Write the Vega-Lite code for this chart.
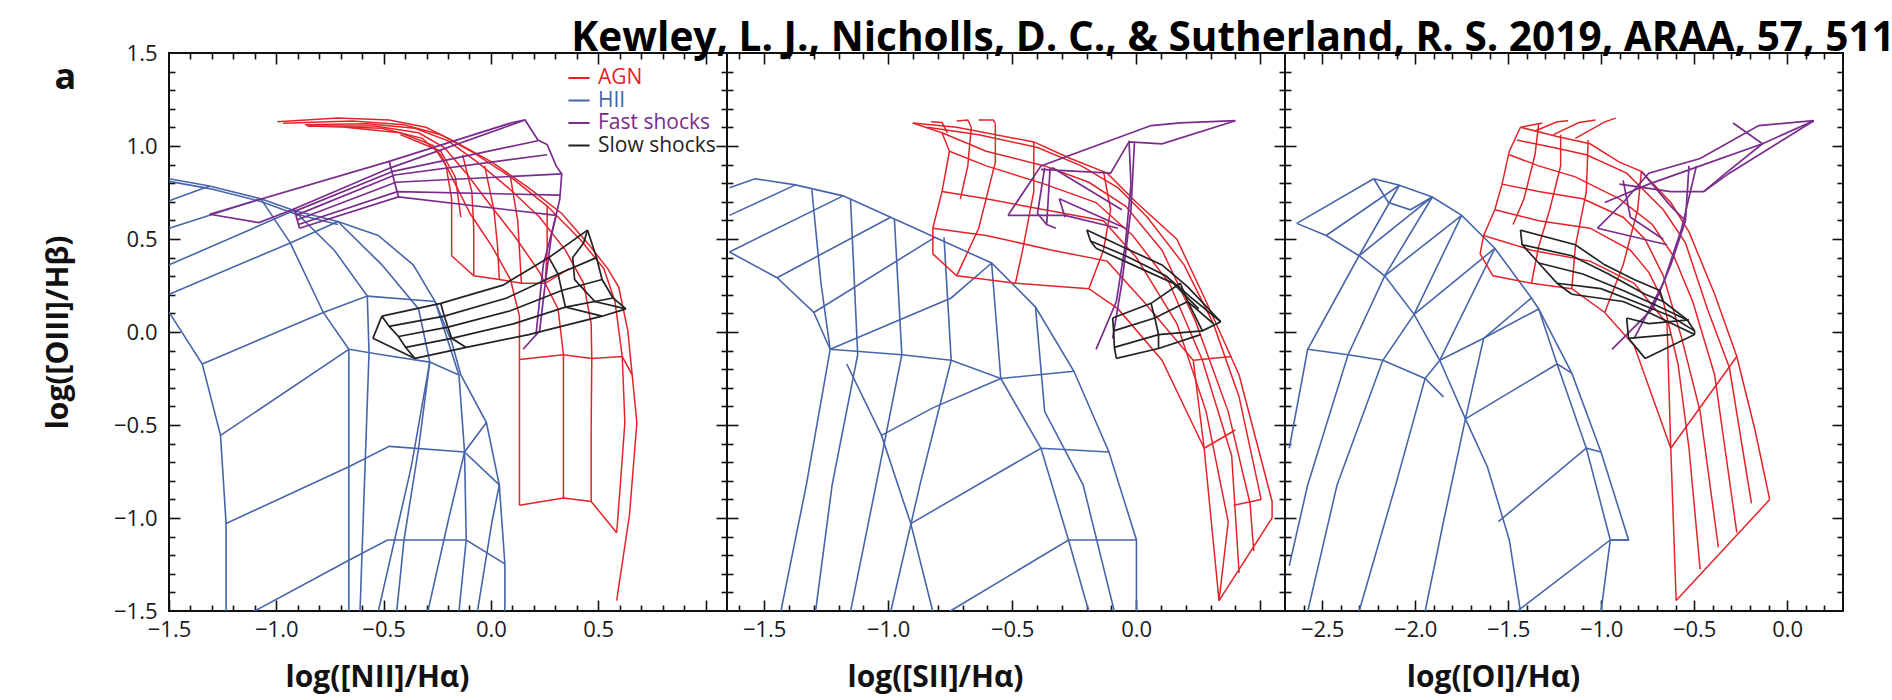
{
"$schema":"https://vega.github.io/schema/vega-lite/v6.json",
"background":"white",
"padding":{"left":42,"top":19,"right":10,"bottom":6},
"title":{"text":"Kewley, L. J., Nicholls, D. C., & Sutherland, R. S. 2019, ARAA, 57, 511","anchor":"end","font":"Open Sans","fontSize":40.6,"fontWeight":"bold","color":"#000","offset":-19,"dx":50},
"config":{"font":"Open Sans","view":{"stroke":"#111","strokeWidth":2},"axis":{"domain":false,"grid":false,"labelFont":"Open Sans","labelFontSize":22,"labelColor":"#1a1a1a","titleFont":"Open Sans","titleFontSize":30,"titleFontWeight":"bold","titleColor":"#111","tickColor":"#111","tickWidth":1.6,"labelFlush":false,"labelOverlap":false,"labelBound":false}},
"datasets":{
"p1h":[
{"i":1,"x":-1.499,"y":0.824},{"i":1,"x":-1.311,"y":0.785},{"i":1,"x":-1.072,"y":0.716},{"i":1,"x":-0.918,"y":0.653},{"i":1,"x":-0.713,"y":0.594},{"i":1,"x":-0.525,"y":0.519},{"i":1,"x":-0.362,"y":0.361},{"i":1,"x":-0.26,"y":0.164},{"i":1,"x":-0.183,"y":-0.053},{"i":1,"x":-0.14,"y":-0.231},{"i":1,"x":-0.021,"y":-0.487},{"i":1,"x":0.039,"y":-0.822},{"i":1,"x":0.065,"y":-1.247},{"i":1,"x":0.065,"y":-1.503},
{"i":2,"x":-1.499,"y":0.105},{"i":2,"x":-1.345,"y":-0.172},{"i":2,"x":-1.26,"y":-0.556},{"i":2,"x":-1.234,"y":-1.03},{"i":2,"x":-1.234,"y":-1.503},
{"i":3,"x":-1.072,"y":0.716},{"i":3,"x":-0.935,"y":0.479},{"i":3,"x":-0.781,"y":0.105},{"i":3,"x":-0.662,"y":-0.093},{"i":3,"x":-0.662,"y":-1.503},
{"i":4,"x":-0.918,"y":0.653},{"i":4,"x":-0.73,"y":0.44},{"i":4,"x":-0.576,"y":0.193},{"i":4,"x":-0.568,"y":-0.112},{"i":4,"x":-0.61,"y":-1.503},
{"i":5,"x":-0.713,"y":0.594},{"i":5,"x":-0.508,"y":0.361},{"i":5,"x":-0.337,"y":0.124},{"i":5,"x":-0.285,"y":-0.162},{"i":5,"x":-0.337,"y":-0.625},{"i":5,"x":-0.405,"y":-1.118},{"i":5,"x":-0.439,"y":-1.503},
{"i":6,"x":-0.26,"y":0.164},{"i":6,"x":-0.149,"y":-0.231},{"i":6,"x":-0.123,"y":-0.645},{"i":6,"x":-0.115,"y":-1.118},{"i":6,"x":-0.149,"y":-1.503},
{"i":7,"x":-1.499,"y":0.706},{"i":7,"x":-1.311,"y":0.785},
{"i":8,"x":-1.499,"y":0.558},{"i":8,"x":-1.072,"y":0.716},
{"i":9,"x":-1.499,"y":0.361},{"i":9,"x":-0.918,"y":0.653},
{"i":10,"x":-1.499,"y":0.203},{"i":10,"x":-0.935,"y":0.479},{"i":10,"x":-0.713,"y":0.594},
{"i":11,"x":-1.345,"y":-0.172},{"i":11,"x":-0.781,"y":0.105},{"i":11,"x":-0.576,"y":0.193},{"i":11,"x":-0.26,"y":0.164},
{"i":12,"x":-1.26,"y":-0.556},{"i":12,"x":-0.662,"y":-0.093},{"i":12,"x":-0.508,"y":-0.122},{"i":12,"x":-0.285,"y":-0.162},{"i":12,"x":-0.149,"y":-0.231},
{"i":13,"x":-1.234,"y":-1.03},{"i":13,"x":-0.662,"y":-0.724},{"i":13,"x":-0.474,"y":-0.615},{"i":13,"x":-0.123,"y":-0.645},{"i":13,"x":0.039,"y":-0.822},
{"i":14,"x":-1.106,"y":-1.503},{"i":14,"x":-0.662,"y":-1.227},{"i":14,"x":-0.482,"y":-1.118},{"i":14,"x":-0.115,"y":-1.118},{"i":14,"x":0.065,"y":-1.247},
{"i":15,"x":-0.525,"y":-1.503},{"i":15,"x":-0.371,"y":-0.724},{"i":15,"x":-0.285,"y":-0.162},
{"i":16,"x":-0.294,"y":-1.503},{"i":16,"x":-0.2,"y":-1.02},{"i":16,"x":-0.123,"y":-0.645},{"i":16,"x":-0.021,"y":-0.487},
{"i":17,"x":-0.063,"y":-1.503},{"i":17,"x":0.005,"y":-1.02},{"i":17,"x":0.039,"y":-0.822},
{"i":18,"x":-1.499,"y":0.81},{"i":18,"x":-1.311,"y":0.771},{"i":18,"x":-1.072,"y":0.702},{"i":18,"x":-0.918,"y":0.637},{"i":18,"x":-0.713,"y":0.578}
],
"p1a":[
{"i":1,"x":-0.995,"y":1.13},{"i":1,"x":-0.713,"y":1.15},{"i":1,"x":-0.474,"y":1.14},{"i":1,"x":-0.303,"y":1.101},{"i":1,"x":-0.166,"y":1.022},{"i":1,"x":0.005,"y":0.913},{"i":1,"x":0.176,"y":0.775},{"i":1,"x":0.33,"y":0.637},{"i":1,"x":0.45,"y":0.479},{"i":1,"x":0.544,"y":0.341},{"i":1,"x":0.595,"y":0.243},{"i":1,"x":0.638,"y":0.006},{"i":1,"x":0.68,"y":-0.487},{"i":1,"x":0.646,"y":-0.98},{"i":1,"x":0.586,"y":-1.444},
{"i":2,"x":-0.969,"y":1.122},{"i":2,"x":-0.644,"y":1.134},{"i":2,"x":-0.405,"y":1.114},{"i":2,"x":-0.234,"y":1.061},{"i":2,"x":-0.08,"y":0.963},{"i":2,"x":0.091,"y":0.834},{"i":2,"x":0.262,"y":0.677},{"i":2,"x":0.415,"y":0.499},{"i":2,"x":0.526,"y":0.341},{"i":2,"x":0.578,"y":0.164},{"i":2,"x":0.612,"y":-0.132},{"i":2,"x":0.624,"y":-0.487},{"i":2,"x":0.603,"y":-0.822},{"i":2,"x":0.586,"y":-1.079},
{"i":3,"x":-0.867,"y":1.114},{"i":3,"x":-0.576,"y":1.12},{"i":3,"x":-0.354,"y":1.095},{"i":3,"x":-0.2,"y":1.028},{"i":3,"x":-0.063,"y":0.913},{"i":3,"x":0.091,"y":0.765},{"i":3,"x":0.227,"y":0.617},{"i":3,"x":0.347,"y":0.44},{"i":3,"x":0.432,"y":0.262},{"i":3,"x":0.467,"y":0.045},{"i":3,"x":0.47,"y":-0.142},{"i":3,"x":0.467,"y":-0.527},{"i":3,"x":0.467,"y":-0.911},
{"i":4,"x":-0.858,"y":1.107},{"i":4,"x":-0.542,"y":1.107},{"i":4,"x":-0.337,"y":1.071},{"i":4,"x":-0.217,"y":0.992},{"i":4,"x":-0.115,"y":0.854},{"i":4,"x":-0.012,"y":0.696},{"i":4,"x":0.108,"y":0.519},{"i":4,"x":0.227,"y":0.321},{"i":4,"x":0.313,"y":0.124},{"i":4,"x":0.338,"y":-0.122},{"i":4,"x":0.338,"y":-0.527},{"i":4,"x":0.338,"y":-0.892},
{"i":5,"x":-0.85,"y":1.107},{"i":5,"x":-0.508,"y":1.095},{"i":5,"x":-0.32,"y":1.041},{"i":5,"x":-0.234,"y":0.953},{"i":5,"x":-0.166,"y":0.795},{"i":5,"x":-0.097,"y":0.637},{"i":5,"x":0.005,"y":0.46},{"i":5,"x":0.091,"y":0.282},{"i":5,"x":0.133,"y":0.085},{"i":5,"x":0.133,"y":-0.148},{"i":5,"x":0.133,"y":-0.546},{"i":5,"x":0.133,"y":-0.931},
{"i":6,"x":-0.679,"y":1.101},{"i":6,"x":-0.422,"y":1.071},{"i":6,"x":-0.268,"y":1.002},{"i":6,"x":-0.209,"y":0.893},{"i":6,"x":-0.183,"y":0.716},{"i":6,"x":-0.183,"y":0.558},{"i":6,"x":-0.183,"y":0.41},
{"i":7,"x":-0.422,"y":1.061},{"i":7,"x":-0.234,"y":0.972},{"i":7,"x":-0.166,"y":0.834},{"i":7,"x":-0.14,"y":0.617},
{"i":8,"x":-0.183,"y":0.41},{"i":8,"x":-0.08,"y":0.302},{"i":8,"x":0.039,"y":0.282},{"i":8,"x":0.142,"y":0.262},{"i":8,"x":0.253,"y":0.262},{"i":8,"x":0.364,"y":0.341},
{"i":9,"x":-0.132,"y":0.953},{"i":9,"x":-0.089,"y":0.755},{"i":9,"x":-0.08,"y":0.558},{"i":9,"x":-0.08,"y":0.302},
{"i":10,"x":-0.029,"y":0.893},{"i":10,"x":0.014,"y":0.657},{"i":10,"x":0.031,"y":0.46},{"i":10,"x":0.039,"y":0.282},
{"i":11,"x":0.091,"y":0.834},{"i":11,"x":0.125,"y":0.598},{"i":11,"x":0.133,"y":0.44},{"i":11,"x":0.142,"y":0.262},
{"i":12,"x":0.262,"y":0.677},{"i":12,"x":0.262,"y":0.44},{"i":12,"x":0.253,"y":0.262},
{"i":13,"x":0.133,"y":-0.148},{"i":13,"x":0.338,"y":-0.122},{"i":13,"x":0.47,"y":-0.142},{"i":13,"x":0.612,"y":-0.132},{"i":13,"x":0.658,"y":-0.231},
{"i":14,"x":0.133,"y":-0.931},{"i":14,"x":0.338,"y":-0.892},{"i":14,"x":0.467,"y":-0.911},{"i":14,"x":0.586,"y":-1.079}
],
"p1f":[
{"i":1,"x":-1.311,"y":0.633},{"i":1,"x":-0.474,"y":0.917},{"i":1,"x":0.099,"y":1.126},
{"i":2,"x":-1.311,"y":0.633},{"i":2,"x":-1.08,"y":0.588},{"i":2,"x":-0.918,"y":0.661},{"i":2,"x":-0.465,"y":0.884},{"i":2,"x":0.159,"y":1.14},
{"i":3,"x":-0.918,"y":0.647},{"i":3,"x":-0.456,"y":0.864},{"i":3,"x":0.219,"y":1.028},
{"i":4,"x":-0.909,"y":0.627},{"i":4,"x":-0.448,"y":0.844},{"i":4,"x":0.262,"y":0.953},
{"i":5,"x":-0.904,"y":0.602},{"i":5,"x":-0.443,"y":0.805},{"i":5,"x":0.33,"y":0.85},
{"i":6,"x":-0.897,"y":0.578},{"i":6,"x":-0.436,"y":0.755},{"i":6,"x":0.321,"y":0.736},
{"i":7,"x":-0.892,"y":0.558},{"i":7,"x":-0.431,"y":0.726},{"i":7,"x":0.304,"y":0.627},
{"i":8,"x":-0.918,"y":0.667},{"i":8,"x":-0.892,"y":0.558},
{"i":9,"x":-0.474,"y":0.917},{"i":9,"x":-0.431,"y":0.726},
{"i":10,"x":0.099,"y":1.126},{"i":10,"x":0.159,"y":1.14},{"i":10,"x":0.219,"y":1.032},{"i":10,"x":0.262,"y":1.008},{"i":10,"x":0.304,"y":0.893},{"i":10,"x":0.33,"y":0.85},{"i":10,"x":0.321,"y":0.716},{"i":10,"x":0.282,"y":0.519},{"i":10,"x":0.253,"y":0.262},{"i":10,"x":0.227,"y":0.006},{"i":10,"x":0.15,"y":-0.093},
{"i":11,"x":0.304,"y":0.627},{"i":11,"x":0.244,"y":0.361},{"i":11,"x":0.21,"y":-0.014}
],
"p1s":[
{"i":1,"x":-0.55,"y":-0.034},{"i":1,"x":-0.508,"y":0.085},
{"i":2,"x":-0.508,"y":0.085},{"i":2,"x":-0.234,"y":0.154},{"i":2,"x":0.056,"y":0.252},{"i":2,"x":0.27,"y":0.4},{"i":2,"x":0.45,"y":0.548},
{"i":3,"x":-0.474,"y":0.03},{"i":3,"x":-0.217,"y":0.085},{"i":3,"x":0.074,"y":0.183},{"i":3,"x":0.313,"y":0.312},{"i":3,"x":0.492,"y":0.4},
{"i":4,"x":-0.431,"y":-0.024},{"i":4,"x":-0.2,"y":0.026},{"i":4,"x":0.091,"y":0.114},{"i":4,"x":0.33,"y":0.223},{"i":4,"x":0.518,"y":0.282},
{"i":5,"x":-0.397,"y":-0.083},{"i":5,"x":-0.183,"y":-0.034},{"i":5,"x":0.108,"y":0.045},{"i":5,"x":0.347,"y":0.134},{"i":5,"x":0.569,"y":0.183},
{"i":6,"x":-0.354,"y":-0.142},{"i":6,"x":-0.115,"y":-0.083},{"i":6,"x":0.176,"y":-0.014},{"i":6,"x":0.518,"y":0.085},{"i":6,"x":0.629,"y":0.124},
{"i":7,"x":-0.55,"y":-0.034},{"i":7,"x":-0.354,"y":-0.142},
{"i":8,"x":-0.508,"y":0.085},{"i":8,"x":-0.474,"y":0.03},{"i":8,"x":-0.431,"y":-0.024},{"i":8,"x":-0.397,"y":-0.083},{"i":8,"x":-0.354,"y":-0.142},
{"i":9,"x":-0.234,"y":0.154},{"i":9,"x":-0.217,"y":0.085},{"i":9,"x":-0.2,"y":0.026},{"i":9,"x":-0.183,"y":-0.034},{"i":9,"x":-0.115,"y":-0.083},
{"i":10,"x":0.45,"y":0.548},{"i":10,"x":0.432,"y":0.479},{"i":10,"x":0.381,"y":0.4},{"i":10,"x":0.39,"y":0.282},{"i":10,"x":0.484,"y":0.164},{"i":10,"x":0.629,"y":0.124},
{"i":11,"x":0.27,"y":0.4},{"i":11,"x":0.313,"y":0.312},{"i":11,"x":0.33,"y":0.223},{"i":11,"x":0.347,"y":0.134},{"i":11,"x":0.518,"y":0.085},
{"i":12,"x":0.45,"y":0.548},{"i":12,"x":0.492,"y":0.4},{"i":12,"x":0.518,"y":0.282},{"i":12,"x":0.569,"y":0.183},{"i":12,"x":0.629,"y":0.124}
],
"p2h":[
{"i":1,"x":-1.64,"y":0.775},{"i":1,"x":-1.537,"y":0.824},{"i":1,"x":-1.374,"y":0.791},{"i":1,"x":-1.182,"y":0.732},{"i":1,"x":-0.99,"y":0.617},{"i":1,"x":-0.812,"y":0.509},{"i":1,"x":-0.583,"y":0.371},{"i":1,"x":-0.406,"y":0.134},{"i":1,"x":-0.251,"y":-0.211},{"i":1,"x":-0.11,"y":-0.645},{"i":1,"x":0.001,"y":-1.118},{"i":1,"x":0.001,"y":-1.503},
{"i":2,"x":-1.64,"y":0.43},{"i":2,"x":-1.448,"y":0.292},{"i":2,"x":-1.3,"y":0.105},{"i":2,"x":-1.234,"y":-0.093},{"i":2,"x":-1.33,"y":-0.822},{"i":2,"x":-1.433,"y":-1.503},
{"i":3,"x":-1.308,"y":0.765},{"i":3,"x":-1.271,"y":0.262},{"i":3,"x":-1.234,"y":-0.093},
{"i":4,"x":-1.152,"y":0.716},{"i":4,"x":-1.123,"y":-0.122},{"i":4,"x":-1.226,"y":-0.822},{"i":4,"x":-1.293,"y":-1.503},
{"i":5,"x":-0.975,"y":0.607},{"i":5,"x":-0.945,"y":-0.122},{"i":5,"x":-1.049,"y":-0.822},{"i":5,"x":-1.152,"y":-1.503},
{"i":6,"x":-0.775,"y":0.509},{"i":6,"x":-0.746,"y":-0.152},{"i":6,"x":-0.872,"y":-0.822},{"i":6,"x":-0.99,"y":-1.503},
{"i":7,"x":-0.583,"y":0.371},{"i":7,"x":-0.546,"y":-0.25},{"i":7,"x":-0.384,"y":-0.625},{"i":7,"x":-0.273,"y":-1.118},{"i":7,"x":-0.191,"y":-1.503},
{"i":8,"x":-1.167,"y":-0.172},{"i":8,"x":-1.027,"y":-0.556},{"i":8,"x":-0.909,"y":-1.03},{"i":8,"x":-0.82,"y":-1.503},
{"i":9,"x":-0.406,"y":0.134},{"i":9,"x":-0.369,"y":-0.428},{"i":9,"x":-0.214,"y":-0.822},{"i":9,"x":-0.088,"y":-1.503},
{"i":10,"x":-1.64,"y":0.627},{"i":10,"x":-1.374,"y":0.791},
{"i":11,"x":-1.64,"y":0.43},{"i":11,"x":-1.182,"y":0.732},
{"i":12,"x":-1.448,"y":0.292},{"i":12,"x":-0.99,"y":0.617},
{"i":13,"x":-1.3,"y":0.105},{"i":13,"x":-0.812,"y":0.509},
{"i":14,"x":-1.234,"y":-0.093},{"i":14,"x":-0.746,"y":0.183},{"i":14,"x":-0.583,"y":0.371},
{"i":15,"x":-1.234,"y":-0.093},{"i":15,"x":-0.945,"y":-0.122},{"i":15,"x":-0.746,"y":-0.152},{"i":15,"x":-0.546,"y":-0.25},{"i":15,"x":-0.251,"y":-0.211},
{"i":16,"x":-1.027,"y":-0.556},{"i":16,"x":-0.82,"y":-0.408},{"i":16,"x":-0.546,"y":-0.25},
{"i":17,"x":-0.909,"y":-1.03},{"i":17,"x":-0.384,"y":-0.625},{"i":17,"x":-0.11,"y":-0.645},
{"i":18,"x":-0.753,"y":-1.503},{"i":18,"x":-0.273,"y":-1.118},{"i":18,"x":0.001,"y":-1.118}
],
"p2a":[
{"i":1,"x":-0.901,"y":1.124},{"i":1,"x":-0.724,"y":1.101},{"i":1,"x":-0.413,"y":1.022},{"i":1,"x":-0.265,"y":0.933},{"i":1,"x":-0.117,"y":0.854},{"i":1,"x":0.001,"y":0.696},{"i":1,"x":0.164,"y":0.499},{"i":1,"x":0.282,"y":0.164},{"i":1,"x":0.415,"y":-0.231},{"i":1,"x":0.548,"y":-0.911},{"i":1,"x":0.548,"y":-1.0},
{"i":2,"x":-0.842,"y":1.101},{"i":2,"x":-0.635,"y":1.061},{"i":2,"x":-0.398,"y":0.992},{"i":2,"x":-0.221,"y":0.893},{"i":2,"x":-0.073,"y":0.775},{"i":2,"x":0.045,"y":0.617},{"i":2,"x":0.193,"y":0.361},{"i":2,"x":0.311,"y":0.045},{"i":2,"x":0.415,"y":-0.349},{"i":2,"x":0.504,"y":-0.901},
{"i":3,"x":-0.783,"y":1.071},{"i":3,"x":-0.605,"y":0.972},{"i":3,"x":-0.369,"y":0.893},{"i":3,"x":-0.191,"y":0.805},{"i":3,"x":-0.043,"y":0.677},{"i":3,"x":0.104,"y":0.44},{"i":3,"x":0.237,"y":0.065},{"i":3,"x":0.371,"y":-0.428},{"i":3,"x":0.459,"y":-0.921},{"i":3,"x":0.474,"y":-1.178},
{"i":4,"x":-0.753,"y":0.972},{"i":4,"x":-0.605,"y":0.893},{"i":4,"x":-0.369,"y":0.795},{"i":4,"x":-0.162,"y":0.696},{"i":4,"x":-0.014,"y":0.519},{"i":4,"x":0.134,"y":0.262},{"i":4,"x":0.267,"y":-0.152},{"i":4,"x":0.385,"y":-0.665},{"i":4,"x":0.415,"y":-1.296},
{"i":5,"x":-0.783,"y":0.755},{"i":5,"x":-0.605,"y":0.716},{"i":5,"x":-0.369,"y":0.657},{"i":5,"x":-0.132,"y":0.598},{"i":5,"x":0.001,"y":0.4},{"i":5,"x":0.164,"y":0.045},{"i":5,"x":0.282,"y":-0.428},{"i":5,"x":0.371,"y":-1.02},{"i":5,"x":0.334,"y":-1.444},
{"i":6,"x":-0.82,"y":0.558},{"i":6,"x":-0.605,"y":0.519},{"i":6,"x":-0.339,"y":0.44},{"i":6,"x":-0.117,"y":0.381},{"i":6,"x":0.03,"y":0.164},{"i":6,"x":0.23,"y":-0.152},{"i":6,"x":0.274,"y":-0.625},{"i":6,"x":0.334,"y":-1.444},
{"i":7,"x":-0.82,"y":0.42},{"i":7,"x":-0.724,"y":0.302},{"i":7,"x":-0.487,"y":0.262},{"i":7,"x":-0.191,"y":0.233},{"i":7,"x":-0.073,"y":0.124},{"i":7,"x":0.104,"y":-0.152},{"i":7,"x":0.274,"y":-0.625},
{"i":8,"x":-0.901,"y":1.124},{"i":8,"x":-0.783,"y":1.071},{"i":8,"x":-0.753,"y":0.972},{"i":8,"x":-0.783,"y":0.755},{"i":8,"x":-0.82,"y":0.558},{"i":8,"x":-0.82,"y":0.42},
{"i":9,"x":-0.665,"y":1.101},{"i":9,"x":-0.679,"y":0.893},{"i":9,"x":-0.709,"y":0.716},
{"i":10,"x":-0.568,"y":1.12},{"i":10,"x":-0.568,"y":0.913},{"i":10,"x":-0.635,"y":0.558},{"i":10,"x":-0.724,"y":0.302},
{"i":11,"x":-0.413,"y":1.022},{"i":11,"x":-0.413,"y":0.755},{"i":11,"x":-0.458,"y":0.44},{"i":11,"x":-0.487,"y":0.262},
{"i":12,"x":-0.132,"y":0.864},{"i":12,"x":-0.103,"y":0.657},{"i":12,"x":-0.132,"y":0.44},{"i":12,"x":-0.191,"y":0.233},
{"i":13,"x":-0.827,"y":1.13},{"i":13,"x":-0.783,"y":1.126},{"i":13,"x":-0.761,"y":1.071},
{"i":14,"x":-0.724,"y":1.134},{"i":14,"x":-0.679,"y":1.14},{"i":14,"x":-0.665,"y":1.101},
{"i":15,"x":-0.635,"y":1.14},{"i":15,"x":-0.576,"y":1.14},{"i":15,"x":-0.568,"y":1.12},
{"i":16,"x":0.23,"y":-0.152},{"i":16,"x":0.385,"y":-0.132},
{"i":17,"x":0.274,"y":-0.625},{"i":17,"x":0.4,"y":-0.527},
{"i":18,"x":0.393,"y":-0.931},{"i":18,"x":0.504,"y":-0.901},
{"i":19,"x":0.334,"y":-1.444},{"i":19,"x":0.548,"y":-1.0}
],
"p2f":[
{"i":1,"x":-0.517,"y":0.627},{"i":1,"x":-0.384,"y":0.893},{"i":1,"x":0.06,"y":1.11},{"i":1,"x":0.178,"y":1.124},{"i":1,"x":0.4,"y":1.136},
{"i":2,"x":-0.384,"y":0.874},{"i":2,"x":-0.103,"y":0.854},{"i":2,"x":-0.029,"y":1.022},{"i":2,"x":0.104,"y":1.012},{"i":2,"x":0.4,"y":1.136},
{"i":3,"x":-0.517,"y":0.627},{"i":3,"x":-0.287,"y":0.627},{"i":3,"x":-0.073,"y":0.558},
{"i":4,"x":-0.369,"y":0.884},{"i":4,"x":-0.398,"y":0.637},{"i":4,"x":-0.361,"y":0.578},
{"i":5,"x":-0.347,"y":0.884},{"i":5,"x":-0.361,"y":0.578},{"i":5,"x":-0.324,"y":0.558},
{"i":6,"x":-0.31,"y":0.716},{"i":6,"x":-0.287,"y":0.617},
{"i":7,"x":-0.029,"y":1.028},{"i":7,"x":-0.021,"y":0.795},{"i":7,"x":-0.043,"y":0.479},{"i":7,"x":-0.08,"y":0.164},{"i":7,"x":-0.162,"y":-0.093},
{"i":8,"x":-0.007,"y":1.022},{"i":8,"x":-0.021,"y":0.657},{"i":8,"x":-0.058,"y":0.262},{"i":8,"x":-0.095,"y":-0.034},
{"i":9,"x":-0.339,"y":0.884},{"i":9,"x":-0.058,"y":0.657},
{"i":10,"x":-0.31,"y":0.716},{"i":10,"x":-0.043,"y":0.558}
],
"p2s":[
{"i":1,"x":-0.199,"y":0.548},{"i":1,"x":-0.043,"y":0.45},{"i":1,"x":0.104,"y":0.361},{"i":1,"x":0.208,"y":0.243},{"i":1,"x":0.341,"y":0.055},
{"i":2,"x":-0.184,"y":0.489},{"i":2,"x":-0.043,"y":0.41},{"i":2,"x":0.119,"y":0.302},{"i":2,"x":0.223,"y":0.183},{"i":2,"x":0.341,"y":0.055},
{"i":3,"x":-0.162,"y":0.45},{"i":3,"x":-0.014,"y":0.361},{"i":3,"x":0.149,"y":0.262},{"i":3,"x":0.252,"y":0.124},
{"i":4,"x":-0.095,"y":0.075},{"i":4,"x":0.06,"y":0.154},{"i":4,"x":0.178,"y":0.262},
{"i":5,"x":-0.091,"y":0.006},{"i":5,"x":0.075,"y":0.075},{"i":5,"x":0.208,"y":0.164},{"i":5,"x":0.311,"y":0.045},
{"i":6,"x":-0.088,"y":-0.083},{"i":6,"x":0.09,"y":-0.014},{"i":6,"x":0.267,"y":0.006},{"i":6,"x":0.341,"y":0.055},
{"i":7,"x":-0.08,"y":-0.142},{"i":7,"x":0.09,"y":-0.089},{"i":7,"x":0.26,"y":-0.014},
{"i":8,"x":-0.199,"y":0.548},{"i":8,"x":-0.184,"y":0.489},{"i":8,"x":-0.162,"y":0.45},
{"i":9,"x":-0.095,"y":0.075},{"i":9,"x":-0.091,"y":0.006},{"i":9,"x":-0.088,"y":-0.083},{"i":9,"x":-0.08,"y":-0.142},
{"i":10,"x":0.06,"y":0.154},{"i":10,"x":0.075,"y":0.075},{"i":10,"x":0.09,"y":-0.014},{"i":10,"x":0.09,"y":-0.089},
{"i":11,"x":0.178,"y":0.262},{"i":11,"x":0.208,"y":0.164},{"i":11,"x":0.267,"y":0.006}
],
"p3h":[
{"i":1,"x":-2.637,"y":0.584},{"i":1,"x":-2.479,"y":0.519},{"i":1,"x":-2.302,"y":0.41},{"i":1,"x":-2.164,"y":0.302},{"i":1,"x":-2.006,"y":0.095},{"i":1,"x":-1.868,"y":-0.152},{"i":1,"x":-1.73,"y":-0.467},{"i":1,"x":-1.612,"y":-0.724},{"i":1,"x":-1.494,"y":-1.118},{"i":1,"x":-1.434,"y":-1.503},
{"i":2,"x":-2.223,"y":0.824},{"i":2,"x":-2.085,"y":0.789},{"i":2,"x":-1.908,"y":0.726},{"i":2,"x":-1.75,"y":0.627},{"i":2,"x":-1.572,"y":0.45},{"i":2,"x":-1.375,"y":0.183},{"i":2,"x":-1.336,"y":0.124},{"i":2,"x":-1.158,"y":-0.221},{"i":2,"x":-1.001,"y":-0.645},{"i":2,"x":-0.853,"y":-1.118},{"i":2,"x":-0.951,"y":-1.118},
{"i":3,"x":-2.578,"y":-0.093},{"i":3,"x":-2.361,"y":-0.122},{"i":3,"x":-2.174,"y":-0.152},{"i":3,"x":-1.947,"y":-0.25},{"i":3,"x":-1.848,"y":-0.349},
{"i":4,"x":-2.085,"y":0.789},{"i":4,"x":-2.302,"y":0.41},{"i":4,"x":-2.578,"y":-0.093},{"i":4,"x":-2.677,"y":-0.625},
{"i":5,"x":-1.908,"y":0.726},{"i":5,"x":-2.164,"y":0.302},{"i":5,"x":-2.361,"y":-0.122},{"i":5,"x":-2.578,"y":-0.822},{"i":5,"x":-2.677,"y":-1.256},
{"i":6,"x":-1.75,"y":0.627},{"i":6,"x":-2.006,"y":0.095},{"i":6,"x":-2.174,"y":-0.152},{"i":6,"x":-2.42,"y":-0.822},{"i":6,"x":-2.578,"y":-1.503},
{"i":7,"x":-1.572,"y":0.45},{"i":7,"x":-1.868,"y":-0.152},{"i":7,"x":-1.947,"y":-0.25},{"i":7,"x":-2.105,"y":-0.822},{"i":7,"x":-2.302,"y":-1.503},
{"i":8,"x":-1.375,"y":0.183},{"i":8,"x":-1.632,"y":-0.034},{"i":8,"x":-1.73,"y":-0.467},{"i":8,"x":-1.848,"y":-1.02},{"i":8,"x":-1.947,"y":-1.503},
{"i":9,"x":-2.637,"y":0.584},{"i":9,"x":-2.223,"y":0.824},
{"i":10,"x":-2.479,"y":0.519},{"i":10,"x":-2.085,"y":0.789},
{"i":11,"x":-2.302,"y":0.41},{"i":11,"x":-1.908,"y":0.726},
{"i":12,"x":-2.164,"y":0.302},{"i":12,"x":-1.75,"y":0.627},
{"i":13,"x":-2.006,"y":0.095},{"i":13,"x":-1.572,"y":0.45},
{"i":14,"x":-1.868,"y":-0.152},{"i":14,"x":-1.632,"y":-0.034},{"i":14,"x":-1.336,"y":0.124},
{"i":15,"x":-1.73,"y":-0.467},{"i":15,"x":-1.237,"y":-0.172},{"i":15,"x":-1.158,"y":-0.221},
{"i":16,"x":-1.553,"y":-1.02},{"i":16,"x":-1.08,"y":-0.625},{"i":16,"x":-1.001,"y":-0.645},
{"i":17,"x":-1.454,"y":-1.503},{"i":17,"x":-0.951,"y":-1.118},{"i":17,"x":-0.853,"y":-1.118},
{"i":18,"x":-1.336,"y":0.124},{"i":18,"x":-1.237,"y":-0.172},{"i":18,"x":-1.08,"y":-0.625},{"i":18,"x":-0.951,"y":-1.118},{"i":18,"x":-1.001,"y":-1.503},
{"i":19,"x":-2.223,"y":0.824},{"i":19,"x":-2.144,"y":0.696},{"i":19,"x":-2.026,"y":0.657},{"i":19,"x":-1.908,"y":0.726}
],
"p3a":[
{"i":1,"x":-1.434,"y":1.101},{"i":1,"x":-1.237,"y":1.051},{"i":1,"x":-1.06,"y":1.012},{"i":1,"x":-0.902,"y":0.913},{"i":1,"x":-0.784,"y":0.864},{"i":1,"x":-0.626,"y":0.696},{"i":1,"x":-0.528,"y":0.538},{"i":1,"x":-0.39,"y":0.203},{"i":1,"x":-0.271,"y":-0.132},{"i":1,"x":-0.173,"y":-0.527},{"i":1,"x":-0.094,"y":-0.901},
{"i":2,"x":-1.454,"y":1.032},{"i":2,"x":-1.257,"y":0.992},{"i":2,"x":-1.08,"y":0.953},{"i":2,"x":-0.863,"y":0.854},{"i":2,"x":-0.666,"y":0.657},{"i":2,"x":-0.547,"y":0.479},{"i":2,"x":-0.429,"y":0.124},{"i":2,"x":-0.311,"y":-0.191},{"i":2,"x":-0.192,"y":-0.921},
{"i":3,"x":-1.494,"y":0.953},{"i":3,"x":-1.336,"y":0.893},{"i":3,"x":-1.139,"y":0.834},{"i":3,"x":-0.902,"y":0.716},{"i":3,"x":-0.725,"y":0.578},{"i":3,"x":-0.606,"y":0.4},{"i":3,"x":-0.508,"y":0.164},{"i":3,"x":-0.39,"y":-0.231},{"i":3,"x":-0.271,"y":-1.079},
{"i":4,"x":-1.533,"y":0.795},{"i":4,"x":-1.336,"y":0.755},{"i":4,"x":-1.099,"y":0.716},{"i":4,"x":-0.882,"y":0.617},{"i":4,"x":-0.764,"y":0.499},{"i":4,"x":-0.666,"y":0.302},{"i":4,"x":-0.567,"y":-0.034},{"i":4,"x":-0.468,"y":-0.428},{"i":4,"x":-0.37,"y":-1.158},
{"i":5,"x":-1.572,"y":0.657},{"i":5,"x":-1.336,"y":0.598},{"i":5,"x":-1.06,"y":0.558},{"i":5,"x":-0.843,"y":0.44},{"i":5,"x":-0.744,"y":0.321},{"i":5,"x":-0.666,"y":0.164},{"i":5,"x":-0.587,"y":-0.172},{"i":5,"x":-0.528,"y":-0.625},{"i":5,"x":-0.468,"y":-1.276},
{"i":6,"x":-1.632,"y":0.519},{"i":6,"x":-1.375,"y":0.44},{"i":6,"x":-1.06,"y":0.381},{"i":6,"x":-0.823,"y":0.262},{"i":6,"x":-0.646,"y":0.045},{"i":6,"x":-0.626,"y":-0.625},{"i":6,"x":-0.597,"y":-1.444},
{"i":7,"x":-1.651,"y":0.42},{"i":7,"x":-1.582,"y":0.302},{"i":7,"x":-1.375,"y":0.262},{"i":7,"x":-1.158,"y":0.233},{"i":7,"x":-0.981,"y":0.105},{"i":7,"x":-0.823,"y":-0.073},{"i":7,"x":-0.626,"y":-0.625},
{"i":8,"x":-1.434,"y":1.101},{"i":8,"x":-1.494,"y":0.972},{"i":8,"x":-1.533,"y":0.795},{"i":8,"x":-1.572,"y":0.657},{"i":8,"x":-1.632,"y":0.519},{"i":8,"x":-1.651,"y":0.42},
{"i":9,"x":-1.336,"y":1.12},{"i":9,"x":-1.356,"y":0.953},{"i":9,"x":-1.415,"y":0.716},{"i":9,"x":-1.474,"y":0.578},
{"i":10,"x":-1.218,"y":1.061},{"i":10,"x":-1.218,"y":0.893},{"i":10,"x":-1.277,"y":0.657},{"i":10,"x":-1.336,"y":0.46},{"i":10,"x":-1.375,"y":0.262},
{"i":11,"x":-1.07,"y":1.032},{"i":11,"x":-1.08,"y":0.755},{"i":11,"x":-1.139,"y":0.46},{"i":11,"x":-1.158,"y":0.233},
{"i":12,"x":-0.784,"y":0.864},{"i":12,"x":-0.804,"y":0.657},{"i":12,"x":-0.882,"y":0.361},{"i":12,"x":-0.981,"y":0.105},
{"i":13,"x":-1.434,"y":1.101},{"i":13,"x":-1.336,"y":1.12},{"i":13,"x":-1.316,"y":1.124},
{"i":14,"x":-1.356,"y":1.081},{"i":14,"x":-1.237,"y":1.13},{"i":14,"x":-1.178,"y":1.136},
{"i":15,"x":-1.257,"y":1.061},{"i":15,"x":-1.119,"y":1.126},{"i":15,"x":-1.03,"y":1.14},
{"i":16,"x":-1.139,"y":1.041},{"i":16,"x":-0.981,"y":1.13},{"i":16,"x":-0.922,"y":1.15},
{"i":17,"x":-0.626,"y":-0.625},{"i":17,"x":-0.271,"y":-0.132},
{"i":18,"x":-0.597,"y":-1.444},{"i":18,"x":-0.094,"y":-0.901}
],
"p3f":[
{"i":1,"x":-1.02,"y":0.558},{"i":1,"x":-0.882,"y":0.696},{"i":1,"x":-0.744,"y":0.854},{"i":1,"x":-0.468,"y":0.933},{"i":1,"x":-0.153,"y":1.11},{"i":1,"x":0.143,"y":1.136},
{"i":2,"x":-0.981,"y":0.696},{"i":2,"x":-0.744,"y":0.795},{"i":2,"x":-0.468,"y":0.893},{"i":2,"x":-0.133,"y":1.012},{"i":2,"x":0.143,"y":1.136},
{"i":3,"x":-0.902,"y":0.795},{"i":3,"x":-0.626,"y":0.755},{"i":3,"x":-0.449,"y":0.755},{"i":3,"x":-0.311,"y":0.854},{"i":3,"x":0.143,"y":1.136},
{"i":4,"x":-1.02,"y":0.558},{"i":4,"x":-0.646,"y":0.469},
{"i":5,"x":-0.528,"y":0.893},{"i":5,"x":-0.547,"y":0.598},{"i":5,"x":-0.626,"y":0.361},{"i":5,"x":-0.725,"y":0.124},{"i":5,"x":-0.942,"y":-0.093},
{"i":6,"x":-0.488,"y":0.893},{"i":6,"x":-0.567,"y":0.558},{"i":6,"x":-0.666,"y":0.262},{"i":6,"x":-0.823,"y":-0.034},
{"i":7,"x":-0.882,"y":0.815},{"i":7,"x":-0.843,"y":0.617},{"i":7,"x":-0.666,"y":0.499},
{"i":8,"x":-0.291,"y":1.124},{"i":8,"x":-0.133,"y":1.012},{"i":8,"x":-0.33,"y":0.854},{"i":8,"x":-0.449,"y":0.755},
{"i":9,"x":-0.784,"y":0.864},{"i":9,"x":-0.626,"y":0.677},{"i":9,"x":-0.547,"y":0.598}
],
"p3s":[
{"i":1,"x":-1.434,"y":0.548},{"i":1,"x":-1.139,"y":0.469},{"i":1,"x":-0.981,"y":0.361},{"i":1,"x":-0.823,"y":0.282},{"i":1,"x":-0.685,"y":0.223},
{"i":2,"x":-1.425,"y":0.469},{"i":2,"x":-1.158,"y":0.41},{"i":2,"x":-0.961,"y":0.312},{"i":2,"x":-0.764,"y":0.203},{"i":2,"x":-0.666,"y":0.164},
{"i":3,"x":-1.336,"y":0.371},{"i":3,"x":-1.099,"y":0.312},{"i":3,"x":-0.882,"y":0.223},{"i":3,"x":-0.705,"y":0.144},{"i":3,"x":-0.537,"y":0.065},
{"i":4,"x":-1.237,"y":0.262},{"i":4,"x":-1.001,"y":0.233},{"i":4,"x":-0.823,"y":0.164},{"i":4,"x":-0.626,"y":0.085},{"i":4,"x":-0.498,"y":0.006},
{"i":5,"x":-1.158,"y":0.203},{"i":5,"x":-0.882,"y":0.164},{"i":5,"x":-0.744,"y":0.105},{"i":5,"x":-0.498,"y":-0.014},
{"i":6,"x":-0.863,"y":0.075},{"i":6,"x":-0.744,"y":0.045},{"i":6,"x":-0.528,"y":0.065},
{"i":7,"x":-0.853,"y":-0.034},{"i":7,"x":-0.626,"y":-0.014},
{"i":8,"x":-0.764,"y":-0.142},{"i":8,"x":-0.498,"y":-0.014},
{"i":9,"x":-1.434,"y":0.548},{"i":9,"x":-1.425,"y":0.469},{"i":9,"x":-1.336,"y":0.371},{"i":9,"x":-1.237,"y":0.262},{"i":9,"x":-1.158,"y":0.203},
{"i":10,"x":-0.863,"y":0.075},{"i":10,"x":-0.853,"y":-0.034},{"i":10,"x":-0.764,"y":-0.142},
{"i":11,"x":-0.685,"y":0.223},{"i":11,"x":-0.666,"y":0.164},{"i":11,"x":-0.537,"y":0.065},{"i":11,"x":-0.498,"y":0.006},{"i":11,"x":-0.498,"y":-0.014}
]
},
"spacing":0,
"bounds":"flush",
"resolve":{"scale":{"color":"independent"}},
"hconcat":[
{"width":558,"height":558,
"layer":[
{"data":{"name":"p1h"},"mark":{"type":"line","clip":true,"strokeWidth":1.6},
"encoding":{
"x":{"field":"x","type":"quantitative","scale":{"domain":[-1.5,1.1],"nice":false,"zero":false},"axis":{"orient":"bottom","values":[-1.5,-1,-0.5,0,0.5],"format":".1f","ticks":false,"labelPadding":8,"title":"log([NII]/Hα)","titleX":208,"titlePadding":22}},
"y":{"field":"y","type":"quantitative","scale":{"domain":[-1.5,1.5],"nice":false,"zero":false},"axis":{"orient":"left","values":[-1.5,-1,-0.5,0,0.5,1,1.5],"format":".1f","ticks":false,"labelPadding":12,"title":"log([OIII]/Hβ)","titlePadding":40}},
"detail":{"field":"i","type":"nominal"},
"order":{"value":null},
"color":{"datum":"HII","type":"nominal","scale":{"domain":["AGN","HII","Fast shocks","Slow shocks"],"range":["#e42328","#4865aa","#7a2c8c","#222222"]},
"legend":{"title":null,"orient":"none","legendX":398,"legendY":13,"padding":0,"symbolType":"stroke","symbolStrokeWidth":2,"symbolSize":450,"labelFont":"Open Sans","labelFontSize":21,"labelOffset":7,"rowPadding":0.5,"labelLimit":300,
"encode":{"labels":{"update":{"fill":{"signal":"datum.value === 'AGN' ? '#e42328' : datum.value === 'HII' ? '#4865aa' : datum.value === 'Fast shocks' ? '#7a2c8c' : '#222222'"}}}}}}
}},
{"data":{"name":"p1a"},"mark":{"type":"line","clip":true,"strokeWidth":1.5},
"encoding":{
"x":{"field":"x","type":"quantitative","scale":{"domain":[-1.5,1.1],"nice":false,"zero":false},"axis":{"orient":"bottom","values":[-1.5,-1,-0.5,0,0.5,1],"labels":false,"tickSize":-11,"title":null}},
"y":{"field":"y","type":"quantitative","scale":{"domain":[-1.5,1.5],"nice":false,"zero":false},"axis":{"orient":"left","values":[-1,-0.5,0,0.5,1],"labels":false,"tickSize":-11,"title":"a","titleAngle":0,"titleX":-115,"titleY":35,"titleAlign":"left","titleBaseline":"alphabetic","titleFontSize":36,"titleFontWeight":"bold","titleColor":"#111"}},
"detail":{"field":"i","type":"nominal"},"order":{"value":null},
"color":{"datum":"AGN","type":"nominal","scale":{"domain":["AGN","HII","Fast shocks","Slow shocks"],"range":["#e42328","#4865aa","#7a2c8c","#222222"]}}
}},
{"data":{"name":"p1f"},"mark":{"type":"line","clip":true,"strokeWidth":1.7},
"encoding":{
"x":{"field":"x","type":"quantitative","scale":{"domain":[-1.5,1.1],"nice":false,"zero":false},"axis":{"orient":"bottom","values":[-1.4,-1.3,-1.2,-1.1,-0.9,-0.8,-0.7,-0.6,-0.4,-0.3,-0.2,-0.1,0.1,0.2,0.3,0.4,0.6,0.7,0.8,0.9],"labels":false,"tickSize":-6,"title":null}},
"y":{"field":"y","type":"quantitative","scale":{"domain":[-1.5,1.5],"nice":false,"zero":false},"axis":{"orient":"left","values":[-1.4,-1.3,-1.2,-1.1,-0.9,-0.8,-0.7,-0.6,-0.4,-0.3,-0.2,-0.1,0.1,0.2,0.3,0.4,0.6,0.7,0.8,0.9,1.1,1.2,1.3,1.4],"labels":false,"tickSize":-6,"title":null}},
"detail":{"field":"i","type":"nominal"},"order":{"value":null},
"color":{"datum":"Fast shocks","type":"nominal","scale":{"domain":["AGN","HII","Fast shocks","Slow shocks"],"range":["#e42328","#4865aa","#7a2c8c","#222222"]}}
}},
{"data":{"name":"p1s"},"mark":{"type":"line","clip":true,"strokeWidth":1.7},
"encoding":{
"x":{"field":"x","type":"quantitative","scale":{"domain":[-1.5,1.1],"nice":false,"zero":false},"axis":{"orient":"top","values":[-1,-0.5,0,0.5,1],"labels":false,"tickSize":-11,"title":null}},
"y":{"field":"y","type":"quantitative","scale":{"domain":[-1.5,1.5],"nice":false,"zero":false},"axis":{"orient":"right","values":[-1,-0.5,0,0.5,1],"labels":false,"tickSize":-11,"title":null}},
"detail":{"field":"i","type":"nominal"},"order":{"value":null},
"color":{"datum":"Slow shocks","type":"nominal","scale":{"domain":["AGN","HII","Fast shocks","Slow shocks"],"range":["#e42328","#4865aa","#7a2c8c","#222222"]}}
}},
{"data":{"name":"p1s"},"mark":{"type":"line","opacity":0},
"encoding":{
"x":{"field":"x","type":"quantitative","scale":{"domain":[-1.5,1.1],"nice":false,"zero":false},"axis":{"orient":"top","values":[-1.4,-1.3,-1.2,-1.1,-0.9,-0.8,-0.7,-0.6,-0.4,-0.3,-0.2,-0.1,0.1,0.2,0.3,0.4,0.6,0.7,0.8,0.9],"labels":false,"tickSize":-6,"title":null}},
"y":{"field":"y","type":"quantitative","scale":{"domain":[-1.5,1.5],"nice":false,"zero":false},"axis":{"orient":"right","values":[-1.4,-1.3,-1.2,-1.1,-0.9,-0.8,-0.7,-0.6,-0.4,-0.3,-0.2,-0.1,0.1,0.2,0.3,0.4,0.6,0.7,0.8,0.9,1.1,1.2,1.3,1.4],"labels":false,"tickSize":-6,"title":null}},
"detail":{"field":"i","type":"nominal"},"order":{"value":null}
}}
],
"resolve":{"axis":{"x":"independent","y":"independent"}}
},
{"width":558,"height":558,
"layer":[
{"data":{"name":"p2h"},"mark":{"type":"line","clip":true,"strokeWidth":1.6},
"encoding":{
"x":{"field":"x","type":"quantitative","scale":{"domain":[-1.65,0.6],"nice":false,"zero":false},"axis":{"orient":"bottom","values":[-1.5,-1,-0.5,0],"format":".1f","ticks":false,"labelPadding":8,"title":"log([SII]/Hα)","titleX":208,"titlePadding":22}},
"y":{"field":"y","type":"quantitative","scale":{"domain":[-1.5,1.5],"nice":false,"zero":false},"axis":null},
"detail":{"field":"i","type":"nominal"},"order":{"value":null},
"color":{"datum":"HII","type":"nominal","scale":{"domain":["AGN","HII","Fast shocks","Slow shocks"],"range":["#e42328","#4865aa","#7a2c8c","#222222"]},"legend":null}
}},
{"data":{"name":"p2a"},"mark":{"type":"line","clip":true,"strokeWidth":1.5},
"encoding":{
"x":{"field":"x","type":"quantitative","scale":{"domain":[-1.65,0.6],"nice":false,"zero":false},"axis":{"orient":"bottom","values":[-1.5,-1,-0.5,0,0.5],"labels":false,"tickSize":-11,"title":null}},
"y":{"field":"y","type":"quantitative","scale":{"domain":[-1.5,1.5],"nice":false,"zero":false},"axis":{"orient":"left","values":[-1,-0.5,0,0.5,1],"labels":false,"tickSize":-11,"title":null}},
"detail":{"field":"i","type":"nominal"},"order":{"value":null},
"color":{"datum":"AGN","type":"nominal","scale":{"domain":["AGN","HII","Fast shocks","Slow shocks"],"range":["#e42328","#4865aa","#7a2c8c","#222222"]},"legend":null}
}},
{"data":{"name":"p2f"},"mark":{"type":"line","clip":true,"strokeWidth":1.7},
"encoding":{
"x":{"field":"x","type":"quantitative","scale":{"domain":[-1.65,0.6],"nice":false,"zero":false},"axis":{"orient":"bottom","values":[-1.6,-1.4,-1.3,-1.2,-1.1,-0.9,-0.8,-0.7,-0.6,-0.4,-0.3,-0.2,-0.1,0.1,0.2,0.3,0.4],"labels":false,"tickSize":-6,"title":null}},
"y":{"field":"y","type":"quantitative","scale":{"domain":[-1.5,1.5],"nice":false,"zero":false},"axis":{"orient":"left","values":[-1.4,-1.3,-1.2,-1.1,-0.9,-0.8,-0.7,-0.6,-0.4,-0.3,-0.2,-0.1,0.1,0.2,0.3,0.4,0.6,0.7,0.8,0.9,1.1,1.2,1.3,1.4],"labels":false,"tickSize":-6,"title":null}},
"detail":{"field":"i","type":"nominal"},"order":{"value":null},
"color":{"datum":"Fast shocks","type":"nominal","scale":{"domain":["AGN","HII","Fast shocks","Slow shocks"],"range":["#e42328","#4865aa","#7a2c8c","#222222"]},"legend":null}
}},
{"data":{"name":"p2s"},"mark":{"type":"line","clip":true,"strokeWidth":1.7},
"encoding":{
"x":{"field":"x","type":"quantitative","scale":{"domain":[-1.65,0.6],"nice":false,"zero":false},"axis":{"orient":"top","values":[-1.5,-1,-0.5,0,0.5],"labels":false,"tickSize":-11,"title":null}},
"y":{"field":"y","type":"quantitative","scale":{"domain":[-1.5,1.5],"nice":false,"zero":false},"axis":{"orient":"right","values":[-1,-0.5,0,0.5,1],"labels":false,"tickSize":-11,"title":null}},
"detail":{"field":"i","type":"nominal"},"order":{"value":null},
"color":{"datum":"Slow shocks","type":"nominal","scale":{"domain":["AGN","HII","Fast shocks","Slow shocks"],"range":["#e42328","#4865aa","#7a2c8c","#222222"]},"legend":null}
}},
{"data":{"name":"p2s"},"mark":{"type":"line","opacity":0},
"encoding":{
"x":{"field":"x","type":"quantitative","scale":{"domain":[-1.65,0.6],"nice":false,"zero":false},"axis":{"orient":"top","values":[-1.6,-1.4,-1.3,-1.2,-1.1,-0.9,-0.8,-0.7,-0.6,-0.4,-0.3,-0.2,-0.1,0.1,0.2,0.3,0.4],"labels":false,"tickSize":-6,"title":null}},
"y":{"field":"y","type":"quantitative","scale":{"domain":[-1.5,1.5],"nice":false,"zero":false},"axis":{"orient":"right","values":[-1.4,-1.3,-1.2,-1.1,-0.9,-0.8,-0.7,-0.6,-0.4,-0.3,-0.2,-0.1,0.1,0.2,0.3,0.4,0.6,0.7,0.8,0.9,1.1,1.2,1.3,1.4],"labels":false,"tickSize":-6,"title":null}},
"detail":{"field":"i","type":"nominal"},"order":{"value":null}
}}
],
"resolve":{"axis":{"x":"independent","y":"independent"}}
},
{"width":558,"height":558,
"layer":[
{"data":{"name":"p3h"},"mark":{"type":"line","clip":true,"strokeWidth":1.6},
"encoding":{
"x":{"field":"x","type":"quantitative","scale":{"domain":[-2.7,0.3],"nice":false,"zero":false},"axis":{"orient":"bottom","values":[-2.5,-2,-1.5,-1,-0.5,0],"format":".1f","ticks":false,"labelPadding":8,"title":"log([OI]/Hα)","titleX":208,"titlePadding":22}},
"y":{"field":"y","type":"quantitative","scale":{"domain":[-1.5,1.5],"nice":false,"zero":false},"axis":null},
"detail":{"field":"i","type":"nominal"},"order":{"value":null},
"color":{"datum":"HII","type":"nominal","scale":{"domain":["AGN","HII","Fast shocks","Slow shocks"],"range":["#e42328","#4865aa","#7a2c8c","#222222"]},"legend":null}
}},
{"data":{"name":"p3a"},"mark":{"type":"line","clip":true,"strokeWidth":1.5},
"encoding":{
"x":{"field":"x","type":"quantitative","scale":{"domain":[-2.7,0.3],"nice":false,"zero":false},"axis":{"orient":"bottom","values":[-2.5,-2,-1.5,-1,-0.5,0],"labels":false,"tickSize":-11,"title":null}},
"y":{"field":"y","type":"quantitative","scale":{"domain":[-1.5,1.5],"nice":false,"zero":false},"axis":{"orient":"left","values":[-1,-0.5,0,0.5,1],"labels":false,"tickSize":-11,"title":null}},
"detail":{"field":"i","type":"nominal"},"order":{"value":null},
"color":{"datum":"AGN","type":"nominal","scale":{"domain":["AGN","HII","Fast shocks","Slow shocks"],"range":["#e42328","#4865aa","#7a2c8c","#222222"]},"legend":null}
}},
{"data":{"name":"p3f"},"mark":{"type":"line","clip":true,"strokeWidth":1.7},
"encoding":{
"x":{"field":"x","type":"quantitative","scale":{"domain":[-2.7,0.3],"nice":false,"zero":false},"axis":{"orient":"bottom","values":[-2.6,-2.4,-2.3,-2.2,-2.1,-1.9,-1.8,-1.7,-1.6,-1.4,-1.3,-1.2,-1.1,-0.9,-0.8,-0.7,-0.6,-0.4,-0.3,-0.2,-0.1,0.1,0.2],"labels":false,"tickSize":-6,"title":null}},
"y":{"field":"y","type":"quantitative","scale":{"domain":[-1.5,1.5],"nice":false,"zero":false},"axis":{"orient":"left","values":[-1.4,-1.3,-1.2,-1.1,-0.9,-0.8,-0.7,-0.6,-0.4,-0.3,-0.2,-0.1,0.1,0.2,0.3,0.4,0.6,0.7,0.8,0.9,1.1,1.2,1.3,1.4],"labels":false,"tickSize":-6,"title":null}},
"detail":{"field":"i","type":"nominal"},"order":{"value":null},
"color":{"datum":"Fast shocks","type":"nominal","scale":{"domain":["AGN","HII","Fast shocks","Slow shocks"],"range":["#e42328","#4865aa","#7a2c8c","#222222"]},"legend":null}
}},
{"data":{"name":"p3s"},"mark":{"type":"line","clip":true,"strokeWidth":1.7},
"encoding":{
"x":{"field":"x","type":"quantitative","scale":{"domain":[-2.7,0.3],"nice":false,"zero":false},"axis":{"orient":"top","values":[-2.5,-2,-1.5,-1,-0.5,0],"labels":false,"tickSize":-11,"title":null}},
"y":{"field":"y","type":"quantitative","scale":{"domain":[-1.5,1.5],"nice":false,"zero":false},"axis":{"orient":"right","values":[-1,-0.5,0,0.5,1],"labels":false,"tickSize":-11,"title":null}},
"detail":{"field":"i","type":"nominal"},"order":{"value":null},
"color":{"datum":"Slow shocks","type":"nominal","scale":{"domain":["AGN","HII","Fast shocks","Slow shocks"],"range":["#e42328","#4865aa","#7a2c8c","#222222"]},"legend":null}
}},
{"data":{"name":"p3s"},"mark":{"type":"line","opacity":0},
"encoding":{
"x":{"field":"x","type":"quantitative","scale":{"domain":[-2.7,0.3],"nice":false,"zero":false},"axis":{"orient":"top","values":[-2.6,-2.4,-2.3,-2.2,-2.1,-1.9,-1.8,-1.7,-1.6,-1.4,-1.3,-1.2,-1.1,-0.9,-0.8,-0.7,-0.6,-0.4,-0.3,-0.2,-0.1,0.1,0.2],"labels":false,"tickSize":-6,"title":null}},
"y":{"field":"y","type":"quantitative","scale":{"domain":[-1.5,1.5],"nice":false,"zero":false},"axis":{"orient":"right","values":[-1.4,-1.3,-1.2,-1.1,-0.9,-0.8,-0.7,-0.6,-0.4,-0.3,-0.2,-0.1,0.1,0.2,0.3,0.4,0.6,0.7,0.8,0.9,1.1,1.2,1.3,1.4],"labels":false,"tickSize":-6,"title":null}},
"detail":{"field":"i","type":"nominal"},"order":{"value":null}
}}
],
"resolve":{"axis":{"x":"independent","y":"independent"}}
}
]
}
